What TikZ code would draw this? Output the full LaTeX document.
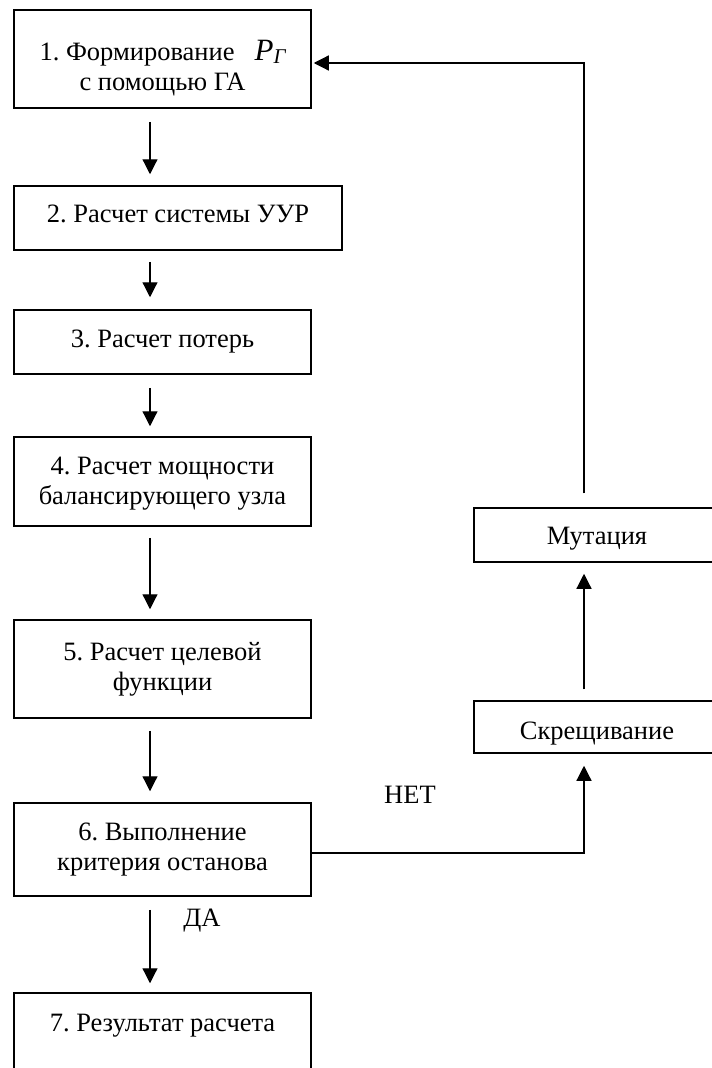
\documentclass[tikz,border=0pt]{standalone}
\usepackage{fontspec}
\setmainfont{Liberation Serif}
\frenchspacing
\usetikzlibrary{arrows.meta}
\begin{document}
\begin{tikzpicture}[x=1pt, y=-1pt,
  blok/.style={draw, line width=1.5pt, align=center, inner sep=0pt, minimum width=297pt, font=\fontsize{26.5pt}{30pt}\selectfont},
  txt/.style={font=\fontsize{26.5pt}{30pt}\selectfont},
  pil/.style={line width=1.2pt, -{Triangle[length=15pt, width=15pt]}}]
  \useasboundingbox (0,0) rectangle (712,1068);
  \coordinate (ax) at (150,0);
  \coordinate (bx) at (584,0);
  \node[blok, minimum height=98pt] (n1) at (162.5,59) {\rule{0pt}{38pt}1. Формирование\hspace{20pt}{\fontsize{31pt}{31pt}\selectfont\itshape P}\raisebox{-0.3ex}{\fontsize{21pt}{21pt}\selectfont\itshape Г}\\с помощью ГА};
  \node[blok, minimum width=328pt, minimum height=64pt] (n2) at (178,218) {\rule[-8pt]{0pt}{8pt}2. Расчет системы УУР};
  \node[blok, minimum height=64pt] (n3) at (162.5,342) {3. Расчет потерь};
  \node[blok, minimum height=89pt] (n4) at (162.5,481.5) {\rule{0pt}{22pt}4. Расчет мощности\\балансирующего узла};
  \node[blok, minimum height=98pt] (n5) at (162.5,669) {5. Расчет целевой\\функции};
  \node[blok, minimum height=93pt] (n6) at (162.5,849.5) {6. Выполнение\\критерия останова};
  \node[blok, minimum height=98pt] (n7) at (162.5,1042) {7. Результат расчета\\\strut};
  \node[blok, minimum width=246pt, minimum height=54pt] (mut) at (597,535) {\rule{0pt}{25pt}Мутация};
  \node[blok, minimum width=246pt, minimum height=52pt] (skr) at (597,727) {\rule{0pt}{30pt}Скрещивание};
  \node[txt] (net) at (410,795) {НЕТ};
  \node[txt] (da) at (202,921) {ДА};
  \draw[pil, shorten <=13pt, shorten >=11pt] (n1.south -| ax) -- (n2.north -| ax);
  \draw[pil, shorten <=11pt, shorten >=12pt] (n2.south -| ax) -- (n3.north -| ax);
  \draw[pil, shorten <=13pt, shorten >=10pt] (n3.south -| ax) -- (n4.north -| ax);
  \draw[pil, shorten <=11pt, shorten >=10pt] (n4.south -| ax) -- (n5.north -| ax);
  \draw[pil, shorten <=12pt, shorten >=11pt] (n5.south -| ax) -- (n6.north -| ax);
  \draw[pil, shorten <=13pt, shorten >=9pt] (n6.south -| ax) -- (n7.north -| ax);
  \draw[pil, shorten >=12pt] ([yshift=-3.5pt]n6.east) -| (skr.south -| bx);
  \draw[pil, shorten <=11pt, shorten >=11pt] (skr.north -| bx) -- (mut.south -| bx);
  \draw[pil, shorten <=14pt, shorten >=2pt] (mut.north -| bx) |- ([yshift=-4pt]n1.east);
\end{tikzpicture}
\end{document}
